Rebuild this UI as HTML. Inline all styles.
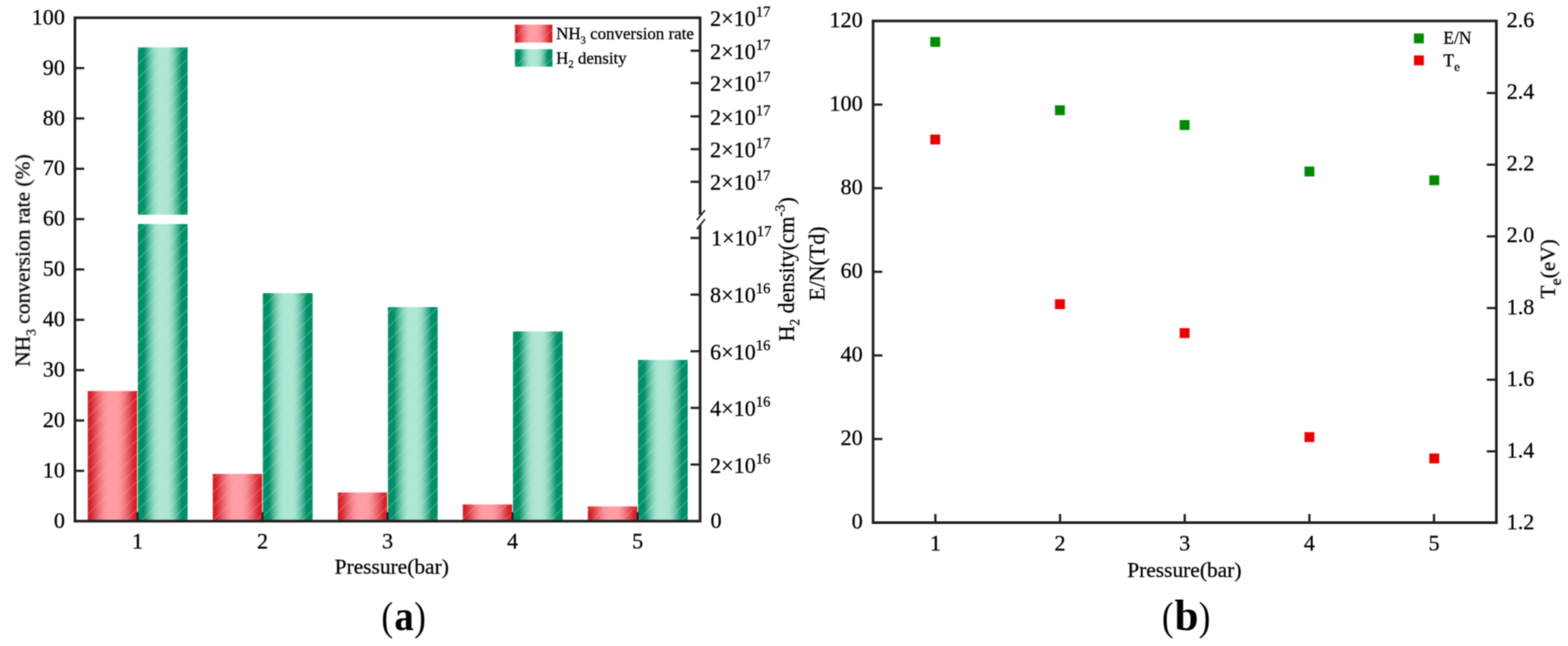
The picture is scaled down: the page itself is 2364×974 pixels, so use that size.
<!DOCTYPE html>
<html lang="en"><head><meta charset="utf-8"><title>Figure: pressure dependence</title>
<style>html,body{margin:0;padding:0;background:#fff;}body{width:2364px;height:974px;overflow:hidden;}svg{display:block;}text{font-family:'Liberation Serif', 'DejaVu Serif', serif;fill:#000;stroke:#000;stroke-width:0.4px;}text.cap{stroke-width:0;}</style></head><body>
<svg width="2364" height="974" viewBox="0 0 2364 974">
<defs>
<linearGradient id="gr" x1="0" y1="0" x2="1" y2="0"><stop offset="0.0000" stop-color="#d32129"/><stop offset="0.0250" stop-color="#d32129"/><stop offset="0.0500" stop-color="#d32129"/><stop offset="0.0750" stop-color="#d62a32"/><stop offset="0.1000" stop-color="#da343c"/><stop offset="0.1250" stop-color="#de4048"/><stop offset="0.1500" stop-color="#e24b53"/><stop offset="0.1750" stop-color="#e6575e"/><stop offset="0.2000" stop-color="#ea6269"/><stop offset="0.2250" stop-color="#ee6c74"/><stop offset="0.2500" stop-color="#f1767d"/><stop offset="0.2750" stop-color="#f47f86"/><stop offset="0.3000" stop-color="#f7878e"/><stop offset="0.3250" stop-color="#fa8e95"/><stop offset="0.3500" stop-color="#fc949b"/><stop offset="0.3750" stop-color="#fd989f"/><stop offset="0.4000" stop-color="#fe9ba2"/><stop offset="0.4250" stop-color="#ff9da4"/><stop offset="0.4500" stop-color="#ff9da4"/><stop offset="0.4750" stop-color="#ff9da4"/><stop offset="0.5000" stop-color="#ff9da4"/><stop offset="0.5250" stop-color="#ff9da4"/><stop offset="0.5500" stop-color="#ff9da4"/><stop offset="0.5750" stop-color="#ff9da4"/><stop offset="0.6000" stop-color="#fe9ba2"/><stop offset="0.6250" stop-color="#fd989f"/><stop offset="0.6500" stop-color="#fc949b"/><stop offset="0.6750" stop-color="#fa8e95"/><stop offset="0.7000" stop-color="#f7878e"/><stop offset="0.7250" stop-color="#f47f86"/><stop offset="0.7500" stop-color="#f1767d"/><stop offset="0.7750" stop-color="#ee6c74"/><stop offset="0.8000" stop-color="#ea6269"/><stop offset="0.8250" stop-color="#e6575e"/><stop offset="0.8500" stop-color="#e24b53"/><stop offset="0.8750" stop-color="#de4048"/><stop offset="0.9000" stop-color="#da343c"/><stop offset="0.9250" stop-color="#d62a32"/><stop offset="0.9500" stop-color="#d32129"/><stop offset="0.9750" stop-color="#d32129"/><stop offset="1.0000" stop-color="#d32129"/></linearGradient>
<linearGradient id="gg" x1="0" y1="0" x2="1" y2="0"><stop offset="0.0000" stop-color="#008f66"/><stop offset="0.0250" stop-color="#008f66"/><stop offset="0.0500" stop-color="#008f66"/><stop offset="0.0750" stop-color="#008f66"/><stop offset="0.1000" stop-color="#008f66"/><stop offset="0.1250" stop-color="#049169"/><stop offset="0.1500" stop-color="#1a9c77"/><stop offset="0.1750" stop-color="#30a784"/><stop offset="0.2000" stop-color="#44b191"/><stop offset="0.2250" stop-color="#58bb9d"/><stop offset="0.2500" stop-color="#6ac4a9"/><stop offset="0.2750" stop-color="#7acdb3"/><stop offset="0.3000" stop-color="#89d4bc"/><stop offset="0.3250" stop-color="#95dac4"/><stop offset="0.3500" stop-color="#9fdfca"/><stop offset="0.3750" stop-color="#a6e3cf"/><stop offset="0.4000" stop-color="#abe5d2"/><stop offset="0.4250" stop-color="#ade6d3"/><stop offset="0.4500" stop-color="#ade6d3"/><stop offset="0.4750" stop-color="#ade6d3"/><stop offset="0.5000" stop-color="#ade6d3"/><stop offset="0.5250" stop-color="#ade6d3"/><stop offset="0.5500" stop-color="#ade6d3"/><stop offset="0.5750" stop-color="#ade6d3"/><stop offset="0.6000" stop-color="#abe5d2"/><stop offset="0.6250" stop-color="#a6e3cf"/><stop offset="0.6500" stop-color="#9fdfca"/><stop offset="0.6750" stop-color="#95dac4"/><stop offset="0.7000" stop-color="#89d4bc"/><stop offset="0.7250" stop-color="#7acdb3"/><stop offset="0.7500" stop-color="#6ac4a9"/><stop offset="0.7750" stop-color="#58bb9d"/><stop offset="0.8000" stop-color="#44b191"/><stop offset="0.8250" stop-color="#30a784"/><stop offset="0.8500" stop-color="#1a9c77"/><stop offset="0.8750" stop-color="#049169"/><stop offset="0.9000" stop-color="#008f66"/><stop offset="0.9250" stop-color="#008f66"/><stop offset="0.9500" stop-color="#008f66"/><stop offset="0.9750" stop-color="#008f66"/><stop offset="1.0000" stop-color="#008f66"/></linearGradient>
<pattern id="hr" width="22" height="21" patternUnits="userSpaceOnUse" patternTransform="translate(0 -1)">
<path d="M-2.2 23.1 L24.2 -2.1" stroke="#ffb0b6" stroke-opacity="0.36" stroke-width="1.3" fill="none"/>
</pattern>
<pattern id="hg" width="22" height="21" patternUnits="userSpaceOnUse" patternTransform="translate(0 1.4)">
<path d="M-2.2 23.1 L24.2 -2.1" stroke="#c0f0e0" stroke-opacity="0.36" stroke-width="1.3" fill="none"/>
</pattern>
<filter id="soft" x="0" y="0" width="100%" height="100%" filterUnits="userSpaceOnUse" color-interpolation-filters="sRGB"><feConvolveMatrix order="5" kernelMatrix="0.00123 0.00735 0.01785 0.00735 0.00123 0.00735 0.04410 0.10710 0.04410 0.00735 0.01785 0.10710 0.26010 0.10710 0.01785 0.00735 0.04410 0.10710 0.04410 0.00735 0.00123 0.00735 0.01785 0.00735 0.00123" divisor="1" preserveAlpha="false" edgeMode="none" result="c"/><feComponentTransfer in="c"><feFuncA type="linear" slope="1.0" intercept="0"/></feComponentTransfer></filter>
</defs>
<rect width="100%" height="100%" fill="#fff"/>
<g id="figure" filter="url(#soft)">
<g id="bars">
<rect x="132.25" y="589.60" width="74.40" height="196.20" fill="url(#gr)"/>
<rect x="132.25" y="589.60" width="74.40" height="196.20" fill="url(#hr)"/>
<rect x="207.85" y="71.50" width="75.00" height="252.20" fill="url(#gg)"/>
<rect x="207.85" y="71.50" width="75.00" height="252.20" fill="url(#hg)"/>
<rect x="207.85" y="337.80" width="75.00" height="448.00" fill="url(#gg)"/>
<rect x="207.85" y="337.80" width="75.00" height="448.00" fill="url(#hg)"/>
<rect x="320.75" y="714.50" width="74.40" height="71.30" fill="url(#gr)"/>
<rect x="320.75" y="714.50" width="74.40" height="71.30" fill="url(#hr)"/>
<rect x="396.35" y="442.00" width="75.00" height="343.80" fill="url(#gg)"/>
<rect x="396.35" y="442.00" width="75.00" height="343.80" fill="url(#hg)"/>
<rect x="509.25" y="742.50" width="74.40" height="43.30" fill="url(#gr)"/>
<rect x="509.25" y="742.50" width="74.40" height="43.30" fill="url(#hr)"/>
<rect x="584.85" y="463.00" width="75.00" height="322.80" fill="url(#gg)"/>
<rect x="584.85" y="463.00" width="75.00" height="322.80" fill="url(#hg)"/>
<rect x="697.75" y="760.60" width="74.40" height="25.20" fill="url(#gr)"/>
<rect x="697.75" y="760.60" width="74.40" height="25.20" fill="url(#hr)"/>
<rect x="773.35" y="499.70" width="75.00" height="286.10" fill="url(#gg)"/>
<rect x="773.35" y="499.70" width="75.00" height="286.10" fill="url(#hg)"/>
<rect x="886.25" y="763.60" width="74.40" height="22.20" fill="url(#gr)"/>
<rect x="886.25" y="763.60" width="74.40" height="22.20" fill="url(#hr)"/>
<rect x="961.85" y="542.70" width="75.00" height="243.10" fill="url(#gg)"/>
<rect x="961.85" y="542.70" width="75.00" height="243.10" fill="url(#hg)"/>
</g>
<g id="axes-a">
<path d="M1055.50 324.0 V26.75 H113.00 V785.80 H1055.50 V339.3" fill="none" stroke="#202020" stroke-width="4.0" stroke-linejoin="miter"/>
<line x1="1050.60" y1="331.80" x2="1062.80" y2="317.00" stroke="#202020" stroke-width="2.4" />
<line x1="1050.60" y1="345.60" x2="1062.80" y2="330.40" stroke="#202020" stroke-width="2.4" />
<line x1="113.00" y1="709.89" x2="127.00" y2="709.89" stroke="#202020" stroke-width="3.4" />
<line x1="113.00" y1="633.99" x2="127.00" y2="633.99" stroke="#202020" stroke-width="3.4" />
<line x1="113.00" y1="558.08" x2="127.00" y2="558.08" stroke="#202020" stroke-width="3.4" />
<line x1="113.00" y1="482.18" x2="127.00" y2="482.18" stroke="#202020" stroke-width="3.4" />
<line x1="113.00" y1="406.27" x2="127.00" y2="406.27" stroke="#202020" stroke-width="3.4" />
<line x1="113.00" y1="330.37" x2="127.00" y2="330.37" stroke="#202020" stroke-width="3.4" />
<line x1="113.00" y1="254.46" x2="127.00" y2="254.46" stroke="#202020" stroke-width="3.4" />
<line x1="113.00" y1="178.56" x2="127.00" y2="178.56" stroke="#202020" stroke-width="3.4" />
<line x1="113.00" y1="102.65" x2="127.00" y2="102.65" stroke="#202020" stroke-width="3.4" />
<line x1="207.25" y1="785.80" x2="207.25" y2="772.30" stroke="#202020" stroke-width="3.0" />
<line x1="395.75" y1="785.80" x2="395.75" y2="772.30" stroke="#202020" stroke-width="3.0" />
<line x1="584.25" y1="785.80" x2="584.25" y2="772.30" stroke="#202020" stroke-width="3.0" />
<line x1="772.75" y1="785.80" x2="772.75" y2="772.30" stroke="#202020" stroke-width="3.0" />
<line x1="961.25" y1="785.80" x2="961.25" y2="772.30" stroke="#202020" stroke-width="3.0" />
<line x1="1055.50" y1="700.40" x2="1041.10" y2="700.40" stroke="#202020" stroke-width="3.4" />
<line x1="1055.50" y1="615.00" x2="1041.10" y2="615.00" stroke="#202020" stroke-width="3.4" />
<line x1="1055.50" y1="529.60" x2="1041.10" y2="529.60" stroke="#202020" stroke-width="3.4" />
<line x1="1055.50" y1="444.20" x2="1041.10" y2="444.20" stroke="#202020" stroke-width="3.4" />
<line x1="1055.50" y1="358.80" x2="1041.10" y2="358.80" stroke="#202020" stroke-width="3.4" />
<line x1="1055.50" y1="274.10" x2="1041.10" y2="274.10" stroke="#202020" stroke-width="3.4" />
<line x1="1055.50" y1="224.90" x2="1041.10" y2="224.90" stroke="#202020" stroke-width="3.4" />
<line x1="1055.50" y1="175.50" x2="1041.10" y2="175.50" stroke="#202020" stroke-width="3.4" />
<line x1="1055.50" y1="125.20" x2="1041.10" y2="125.20" stroke="#202020" stroke-width="3.4" />
<line x1="1055.50" y1="76.50" x2="1041.10" y2="76.50" stroke="#202020" stroke-width="3.4" />
</g>
<g id="labels-a">
<text x="97.90" y="795.79" font-size="33.4" text-anchor="end" >0</text>
<text x="97.90" y="719.88" font-size="33.4" text-anchor="end" >10</text>
<text x="97.90" y="643.98" font-size="33.4" text-anchor="end" >20</text>
<text x="97.90" y="568.07" font-size="33.4" text-anchor="end" >30</text>
<text x="97.90" y="492.17" font-size="33.4" text-anchor="end" >40</text>
<text x="97.90" y="416.26" font-size="33.4" text-anchor="end" >50</text>
<text x="97.90" y="340.36" font-size="33.4" text-anchor="end" >60</text>
<text x="97.90" y="264.45" font-size="33.4" text-anchor="end" >70</text>
<text x="97.90" y="188.55" font-size="33.4" text-anchor="end" >80</text>
<text x="97.90" y="112.64" font-size="33.4" text-anchor="end" >90</text>
<text x="97.90" y="36.74" font-size="33.4" text-anchor="end" >100</text>
<text x="207.25" y="827.40" font-size="33.4" text-anchor="middle" >1</text>
<text x="395.75" y="827.40" font-size="33.4" text-anchor="middle" >2</text>
<text x="584.25" y="827.40" font-size="33.4" text-anchor="middle" >3</text>
<text x="772.75" y="827.40" font-size="33.4" text-anchor="middle" >4</text>
<text x="961.25" y="827.40" font-size="33.4" text-anchor="middle" >5</text>
<text x="1071.20" y="795.69" font-size="33.4" text-anchor="start" >0</text>
<text x="1070.50" y="712.69" font-size="33.4" text-anchor="start" >2×10<tspan dy="-14.03" font-size="22.04">16</tspan></text>
<text x="1070.50" y="627.29" font-size="33.4" text-anchor="start" >4×10<tspan dy="-14.03" font-size="22.04">16</tspan></text>
<text x="1070.50" y="541.89" font-size="33.4" text-anchor="start" >6×10<tspan dy="-14.03" font-size="22.04">16</tspan></text>
<text x="1070.50" y="456.49" font-size="33.4" text-anchor="start" >8×10<tspan dy="-14.03" font-size="22.04">16</tspan></text>
<text x="1072.10" y="370.09" font-size="33.4" text-anchor="start" >1×10<tspan dy="-14.03" font-size="22.04">17</tspan></text>
<text x="1070.50" y="286.39" font-size="33.4" text-anchor="start" >2×10<tspan dy="-14.03" font-size="22.04">17</tspan></text>
<text x="1070.50" y="237.19" font-size="33.4" text-anchor="start" >2×10<tspan dy="-14.03" font-size="22.04">17</tspan></text>
<text x="1070.50" y="187.79" font-size="33.4" text-anchor="start" >2×10<tspan dy="-14.03" font-size="22.04">17</tspan></text>
<text x="1070.50" y="137.49" font-size="33.4" text-anchor="start" >2×10<tspan dy="-14.03" font-size="22.04">17</tspan></text>
<text x="1070.50" y="88.79" font-size="33.4" text-anchor="start" >2×10<tspan dy="-14.03" font-size="22.04">17</tspan></text>
<text x="1070.50" y="39.04" font-size="33.4" text-anchor="start" >2×10<tspan dy="-14.03" font-size="22.04">17</tspan></text>
<text x="590.60" y="864.70" font-size="32.3" text-anchor="middle" >Pressure(bar)</text>
<text x="44.60" y="392.90" font-size="32.4" text-anchor="middle" transform="rotate(-90 44.60 392.90)" >NH<tspan dy="8.60" font-size="20.03">3</tspan><tspan dy="-8.60"> conversion rate (%)</tspan></text>
<text x="1197.00" y="406.10" font-size="32.9" text-anchor="middle" transform="rotate(-90 1197.00 406.10)" >H<tspan dy="8.20" font-size="20.40">2</tspan><tspan dy="-8.20"> density(cm</tspan><tspan dy="-13.82" font-size="21.71">-3</tspan><tspan dy="13.82">)</tspan></text>
</g>
<g id="legend-a">
<rect x="776.3" y="37.2" width="56.6" height="27.0" fill="url(#gr)"/>
<rect x="776.3" y="37.2" width="56.6" height="27.0" fill="url(#hr)"/>
<rect x="776.3" y="74.2" width="56.6" height="26.3" fill="url(#gg)"/>
<rect x="776.3" y="74.2" width="56.6" height="26.3" fill="url(#hg)"/>
<text x="838.50" y="58.70" font-size="25.5" text-anchor="start" >NH<tspan dy="7.50" font-size="15.81">3</tspan><tspan dy="-7.50"> conversion rate</tspan></text>
<text x="838.50" y="96.10" font-size="25.5" text-anchor="start" >H<tspan dy="5.80" font-size="15.81">2</tspan><tspan dy="-5.80"> density</tspan></text>
</g>
<text x="608.60" y="950.00" font-size="62" text-anchor="middle" class="cap"><tspan textLength="17.6" lengthAdjust="spacingAndGlyphs">(</tspan><tspan font-weight="bold" font-size="64" dx="1.8" textLength="29.4" lengthAdjust="spacingAndGlyphs">a</tspan><tspan dx="0.6" textLength="17.6" lengthAdjust="spacingAndGlyphs">)</tspan></text>
<g id="axes-b">
<rect x="1316.30" y="31.60" width="939.70" height="756.40" fill="none" stroke="#202020" stroke-width="4.0"/>
<line x1="1316.30" y1="661.93" x2="1330.30" y2="661.93" stroke="#202020" stroke-width="3.4" />
<line x1="1316.30" y1="535.87" x2="1330.30" y2="535.87" stroke="#202020" stroke-width="3.4" />
<line x1="1316.30" y1="409.80" x2="1330.30" y2="409.80" stroke="#202020" stroke-width="3.4" />
<line x1="1316.30" y1="283.73" x2="1330.30" y2="283.73" stroke="#202020" stroke-width="3.4" />
<line x1="1316.30" y1="157.67" x2="1330.30" y2="157.67" stroke="#202020" stroke-width="3.4" />
<line x1="2256.00" y1="680.54" x2="2241.60" y2="680.54" stroke="#202020" stroke-width="3.4" />
<line x1="2256.00" y1="572.49" x2="2241.60" y2="572.49" stroke="#202020" stroke-width="3.4" />
<line x1="2256.00" y1="464.43" x2="2241.60" y2="464.43" stroke="#202020" stroke-width="3.4" />
<line x1="2256.00" y1="356.37" x2="2241.60" y2="356.37" stroke="#202020" stroke-width="3.4" />
<line x1="2256.00" y1="248.31" x2="2241.60" y2="248.31" stroke="#202020" stroke-width="3.4" />
<line x1="2256.00" y1="140.26" x2="2241.60" y2="140.26" stroke="#202020" stroke-width="3.4" />
<line x1="1410.27" y1="788.00" x2="1410.27" y2="775.00" stroke="#202020" stroke-width="3.4" />
<line x1="1598.21" y1="788.00" x2="1598.21" y2="775.00" stroke="#202020" stroke-width="3.4" />
<line x1="1786.15" y1="788.00" x2="1786.15" y2="775.00" stroke="#202020" stroke-width="3.4" />
<line x1="1974.09" y1="788.00" x2="1974.09" y2="775.00" stroke="#202020" stroke-width="3.4" />
<line x1="2162.03" y1="788.00" x2="2162.03" y2="775.00" stroke="#202020" stroke-width="3.4" />
</g>
<g id="labels-b">
<text x="1300.70" y="797.39" font-size="33.4" text-anchor="end" >0</text>
<text x="1300.70" y="671.32" font-size="33.4" text-anchor="end" >20</text>
<text x="1300.70" y="545.26" font-size="33.4" text-anchor="end" >40</text>
<text x="1300.70" y="419.19" font-size="33.4" text-anchor="end" >60</text>
<text x="1300.70" y="293.12" font-size="33.4" text-anchor="end" >80</text>
<text x="1300.70" y="167.06" font-size="33.4" text-anchor="end" >100</text>
<text x="1300.70" y="40.99" font-size="33.4" text-anchor="end" >120</text>
<text x="2271.50" y="797.69" font-size="33.4" text-anchor="start" >1.2</text>
<text x="2271.50" y="689.63" font-size="33.4" text-anchor="start" >1.4</text>
<text x="2271.50" y="581.57" font-size="33.4" text-anchor="start" >1.6</text>
<text x="2271.50" y="473.52" font-size="33.4" text-anchor="start" >1.8</text>
<text x="2271.50" y="365.46" font-size="33.4" text-anchor="start" >2.0</text>
<text x="2271.50" y="257.40" font-size="33.4" text-anchor="start" >2.2</text>
<text x="2271.50" y="149.35" font-size="33.4" text-anchor="start" >2.4</text>
<text x="2271.50" y="41.29" font-size="33.4" text-anchor="start" >2.6</text>
<text x="1410.27" y="829.50" font-size="33.4" text-anchor="middle" >1</text>
<text x="1598.21" y="829.50" font-size="33.4" text-anchor="middle" >2</text>
<text x="1786.15" y="829.50" font-size="33.4" text-anchor="middle" >3</text>
<text x="1974.09" y="829.50" font-size="33.4" text-anchor="middle" >4</text>
<text x="2162.03" y="829.50" font-size="33.4" text-anchor="middle" >5</text>
<text x="1785.60" y="869.90" font-size="32.3" text-anchor="middle" >Pressure(bar)</text>
<text x="1243.00" y="397.50" font-size="33.1" text-anchor="middle" transform="rotate(-90 1243.00 397.50)" >E/N(Td)</text>
<text x="2344.60" y="405.30" font-size="32.3" text-anchor="middle" transform="rotate(-90 2344.60 405.30)" >T<tspan dy="8.20" font-size="23.90">e</tspan><tspan dy="-8.20">(eV)</tspan></text>
</g>
<g id="points">
<rect x="1402.55" y="55.75" width="14.9" height="14.9" fill="#008a00"/>
<rect x="1590.55" y="158.75" width="14.9" height="14.9" fill="#008a00"/>
<rect x="1778.55" y="181.05" width="14.9" height="14.9" fill="#008a00"/>
<rect x="1966.75" y="251.15" width="14.9" height="14.9" fill="#008a00"/>
<rect x="2154.95" y="264.35" width="14.9" height="14.9" fill="#008a00"/>
<rect x="1402.55" y="202.85" width="14.9" height="14.9" fill="#e90000"/>
<rect x="1590.55" y="451.15" width="14.9" height="14.9" fill="#e90000"/>
<rect x="1778.55" y="494.75" width="14.9" height="14.9" fill="#e90000"/>
<rect x="1966.75" y="651.55" width="14.9" height="14.9" fill="#e90000"/>
<rect x="2154.95" y="683.75" width="14.9" height="14.9" fill="#e90000"/>
</g>
<g id="legend-b">
<rect x="2131.75" y="50.45" width="14.9" height="14.9" fill="#008a00"/>
<rect x="2131.75" y="83.55" width="14.9" height="14.9" fill="#e90000"/>
<text x="2176.00" y="65.90" font-size="26.5" text-anchor="start" >E/N</text>
<text x="2176.00" y="99.60" font-size="26.5" text-anchor="start" >T<tspan dy="6.90" font-size="19.61">e</tspan></text>
</g>
<text x="1788.30" y="950.00" font-size="62" text-anchor="middle" class="cap"><tspan textLength="17.6" lengthAdjust="spacingAndGlyphs">(</tspan><tspan font-weight="bold" font-size="65" dx="1.2">b</tspan><tspan dx="0.3" textLength="17.6" lengthAdjust="spacingAndGlyphs">)</tspan></text>
</g>
</svg></body></html>
